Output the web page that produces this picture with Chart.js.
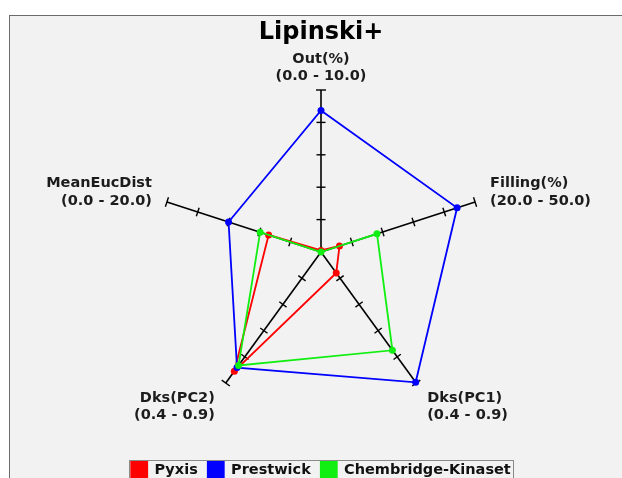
<!DOCTYPE html>
<html>
<head>
<meta charset="utf-8">
<title>Lipinski+</title>
<script src="https://cdn.jsdelivr.net/npm/chart.js@4.4.1/dist/chart.umd.min.js"></script>
<style>
  html, body { margin: 0; padding: 0; background: #fff; width: 622px; height: 478px; overflow: hidden; }
  #panel { position: absolute; left: 9px; top: 15px; right: 0; bottom: 0; background: #f2f2f2;
           border-top: 1px solid #6b6b6b; border-left: 1px solid #6b6b6b; }
  #radarChart { position: absolute; left: 0; top: 0; width: 622px; height: 488px; }
</style>
</head>
<body>
<div id="panel"></div>
<canvas id="radarChart" width="622" height="488"></canvas>
<script>
// Axes and the range of each axis
const axisNames = ['Out(%)', 'Filling(%)', 'Dks(PC1)', 'Dks(PC2)', 'MeanEucDist'];
const axisMin = [0.0, 20.0, 0.4, 0.4, 0.0];
const axisMax = [10.0, 50.0, 0.9, 0.9, 20.0];
const tickSteps = [0.2, 0.4, 0.6, 0.8, 1.0];

// Values (raw units of each axis)
const pyxis = [0.1, 23.6, 0.48, 0.855, 6.8];
const prestwick = [8.74, 46.5, 0.897, 0.841, 12.0];
const chembridge = [0.0, 30.9, 0.775, 0.833, 7.9];

// every axis has its own range, so put all on 0..1
function toUnit(vals) {
    return vals.map((v, i) => (v - axisMin[i]) / (axisMax[i] - axisMin[i]));
}

function rangeText(i) {
    return '(' + axisMin[i].toFixed(1) + ' - ' + axisMax[i].toFixed(1) + ')';
}

// tick marks on the spokes, axis captions and legend frame
const radarDecor = {
    id: 'radarDecor',
    beforeDatasetsDraw(chart) {
        const r = chart.scales.r;
        const ctx = chart.ctx;
        ctx.save();
        ctx.strokeStyle = '#000';
        ctx.lineWidth = 1.4;
        axisNames.forEach((name, i) => {
            const end = r.getPointPosition(i, r.drawingArea);
            const dx = end.x - r.xCenter, dy = end.y - r.yCenter;
            const len = Math.hypot(dx, dy);
            const nx = -dy / len, ny = dx / len;
            tickSteps.forEach(f => {
                const p = r.getPointPosition(i, r.getDistanceFromCenterForValue(f));
                const h = f === 1 ? 5 : 4.5;
                ctx.beginPath();
                ctx.moveTo(p.x - nx * h, p.y - ny * h);
                ctx.lineTo(p.x + nx * h, p.y + ny * h);
                ctx.stroke();
            });
        });
        ctx.restore();
    },
    afterDraw(chart) {
        const r = chart.scales.r;
        const ctx = chart.ctx;
        ctx.save();
        ctx.fillStyle = '#1c1c1c';
        ctx.font = 'bold 14.5px "DejaVu Sans"';
        ctx.textBaseline = 'middle';
        axisNames.forEach((name, i) => {
            const end = r.getPointPosition(i, r.drawingArea);
            const dx = end.x - r.xCenter;
            const upper = end.y < r.yCenter;
            let x = end.x, y1, y2;
            if (Math.abs(dx) < 1) {
                ctx.textAlign = 'center';
                y2 = end.y - 14;
                y1 = y2 - 17;
            } else {
                ctx.textAlign = dx > 0 ? 'left' : 'right';
                x += (dx > 0 ? 1 : -1) * (upper ? 15 : 11);
                if (upper) { y2 = end.y - 1; y1 = y2 - 18; }
                else { y1 = end.y + 15; y2 = y1 + 17; }
            }
            ctx.fillText(name, x, y1);
            ctx.fillText(rangeText(i), x, y2);
        });

        // frame around the legend items
        const boxes = chart.legend.legendHitBoxes;
        if (boxes && boxes.length) {
            const left = Math.min(...boxes.map(b => b.left)) - 2;
            const right = Math.max(...boxes.map(b => b.left + b.width)) + 2;
            const top = Math.min(...boxes.map(b => b.top)) - 2;
            ctx.strokeStyle = '#8a8a8a';
            ctx.lineWidth = 1;
            ctx.strokeRect(Math.round(left) + 0.5, Math.round(top) + 0.5, Math.round(right - left), 40);
        }
        ctx.restore();
    }
};

Chart.defaults.font.family = '"DejaVu Sans", sans-serif';

document.addEventListener('DOMContentLoaded', function () {
    var ctx = document.getElementById('radarChart').getContext('2d');
    var myChart = new Chart(ctx, {
        type: 'radar',
        data: {
            labels: axisNames,
            datasets: [{
                label: 'Pyxis',
                data: toUnit(pyxis),
                borderColor: '#ff0000',
                backgroundColor: '#ff0000',
                pointBackgroundColor: '#ff0000',
                order: 2
            }, {
                label: 'Prestwick',
                data: toUnit(prestwick),
                borderColor: '#0000ff',
                backgroundColor: '#0000ff',
                pointBackgroundColor: '#0000ff',
                order: 1
            }, {
                label: 'Chembridge-Kinaset',
                data: toUnit(chembridge),
                borderColor: '#11ee11',
                backgroundColor: '#11ee11',
                pointBackgroundColor: '#11ee11',
                order: 0
            }]
        },
        options: {
            responsive: false,
            animation: false,
            layout: { padding: { left: 20, right: 0, top: 0, bottom: 0 } },
            elements: {
                line: { borderWidth: 1.8, fill: false, tension: 0 },
                point: { radius: 3.5, borderWidth: 0, hoverRadius: 3.5 }
            },
            scales: {
                r: {
                    min: 0,
                    max: 1,
                    grid: { display: false },
                    angleLines: { display: true, color: '#000', lineWidth: 1.6 },
                    ticks: { display: false, stepSize: 0.2 },
                    pointLabels: { display: false }
                }
            },
            plugins: {
                title: {
                    display: true,
                    text: 'Lipinski+',
                    color: '#000',
                    font: { size: 24, weight: 'bold' },
                    padding: { top: 18, bottom: 43.5 }
                },
                legend: {
                    position: 'bottom',
                    title: { display: true, text: '', font: { size: 10 }, padding: { top: 0, bottom: 25 } },
                    labels: {
                        boxWidth: 16,
                        boxHeight: 16,
                        padding: 10,
                        color: '#111',
                        font: { size: 14.5, weight: 'bold' },
                        sort: (a, b) => a.datasetIndex - b.datasetIndex
                    }
                },
                tooltip: { enabled: false }
            }
        },
        plugins: [radarDecor]
    });
});
</script>
</body>
</html>
